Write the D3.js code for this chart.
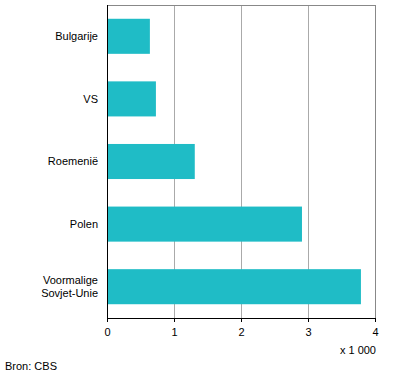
<!DOCTYPE html>
<html lang="nl">
<head>
  <meta charset="UTF-8">
  <title>Herkomst</title>
  <script src="https://cdn.jsdelivr.net/npm/d3@7"></script>
  <style>
    body { margin: 0; background: #fff; }
    text { font-family: "Liberation Sans", Arial, sans-serif; font-size: 11px; fill: #000; }
  </style>
</head>
<body>
  <svg id="chart" width="396" height="377"></svg>
  <script>
    const countries = ["Bulgarije", "VS", "Roemenië", "Polen", "Voormalige\nSovjet-Unie"];
    const values = [0.64, 0.73, 1.31, 2.91, 3.79];
    const xTicks = [0, 1, 2, 3, 4];

    const plotLeft = 107, plotRight = 375, plotTop = 5, plotBottom = 318;

    const svg = d3.select("#chart");

    const x = d3.scaleLinear().domain([0, 4]).range([plotLeft, plotRight]);
    const y = d3.scaleBand().domain(countries).range([plotTop, plotBottom]).paddingInner(0.44).paddingOuter(0.22);

    // gridlines
    svg.append("g").selectAll("line")
      .data(xTicks.slice(1))
      .enter().append("line")
      .attr("x1", d => x(d) + 0.5).attr("x2", d => x(d) + 0.5)
      .attr("y1", plotTop).attr("y2", plotBottom)
      .attr("stroke", d => d === 4 ? "#888" : "#aaa");

    svg.append("line")
      .attr("x1", plotLeft).attr("x2", plotRight + 1)
      .attr("y1", plotTop + 0.5).attr("y2", plotTop + 0.5)
      .attr("stroke", "#888");

    svg.append("g").selectAll("rect")
      .data(values)
      .enter().append("rect")
      .attr("x", x(0))
      .attr("y", (d, i) => y(countries[i]))
      .attr("width", d => x(d) - x(0))
      .attr("height", y.bandwidth())
      .attr("fill", "#1fbcc6");

    // x axis
    const xAxis = d3.axisBottom(x).tickValues(xTicks).tickFormat(d3.format("d")).tickSize(4).tickPadding(6);
    const gx = svg.append("g")
      .attr("transform", "translate(0," + plotBottom + ")")
      .call(xAxis);
    gx.select(".domain").remove();
    gx.selectAll(".tick line").attr("stroke", "#000");
    gx.selectAll(".tick text").attr("font-size", 11).attr("font-family", null);
    gx.append("line")
      .attr("x1", plotLeft).attr("x2", plotRight + 1)
      .attr("y1", 0.5).attr("y2", 0.5)
      .attr("stroke", "#000");

    // y axis line
    svg.append("line")
      .attr("x1", plotLeft + 0.5).attr("x2", plotLeft + 0.5)
      .attr("y1", plotTop).attr("y2", plotBottom)
      .attr("stroke", "#000");

    // category labels
    svg.append("g").selectAll("text")
      .data(countries)
      .enter().append("text")
      .attr("text-anchor", "end")
      .attr("x", 98)
      .attr("y", d => y(d) + y.bandwidth() / 2)
      .each(function(d) {
        const lines = d.split("\n");
        const t = d3.select(this);
        lines.forEach((l, i) => {
          t.append("tspan")
            .attr("x", 98)
            .attr("dy", i === 0 ? ((1 - lines.length) * 0.6 + 0.35) + "em" : "1.2em")
            .text(l);
        });
      });

    svg.append("text")
      .attr("x", 376).attr("y", 354)
      .attr("text-anchor", "end")
      .text("x 1 000");

    svg.append("text")
      .attr("x", 5).attr("y", 370)
      .text("Bron: CBS");
  </script>
</body>
</html>
